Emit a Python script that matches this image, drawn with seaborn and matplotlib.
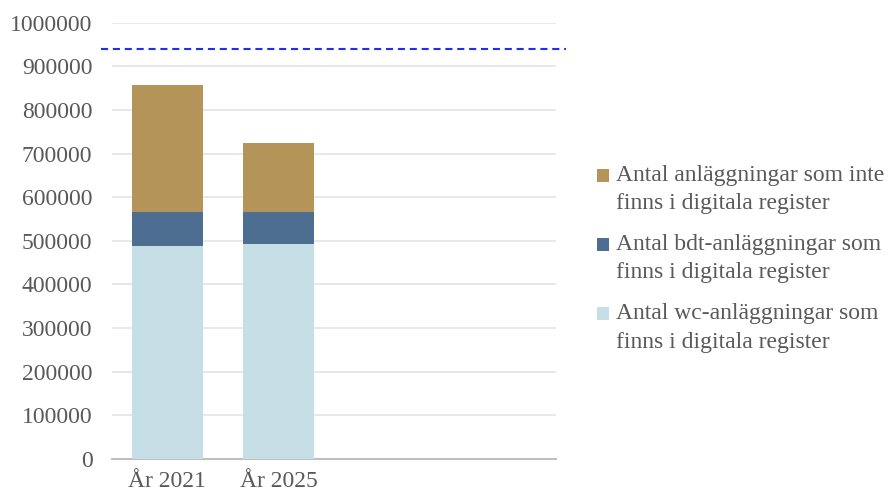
import seaborn as sns
import pandas as pd
import matplotlib
matplotlib.use("Agg")
import matplotlib.pyplot as plt
from matplotlib.patches import Patch, Rectangle
from matplotlib.legend_handler import HandlerPatch
from matplotlib.ticker import StrMethodFormatter

sns.set_theme(style="white")
plt.rcParams['font.family'] = ['Liberation Serif', 'DejaVu Serif']

years = ["År 2021", "År 2025"]
wc = [488000, 492000]
bdt = [79000, 75000]
inte = [290000, 158000]
reference_line = 940000

labels = ["Antal anläggningar som inte\nfinns i digitala register",
          "Antal bdt-anläggningar som\nfinns i digitala register",
          "Antal wc-anläggningar som\nfinns i digitala register"]
colors = ["#b5945a", "#4d6e91", "#c6dee5"]

df = pd.DataFrame({"year": years, "wc": wc, "bdt": bdt, "inte": inte})
df["wc_bdt"] = df["wc"] + df["bdt"]
df["total"] = df["wc_bdt"] + df["inte"]

fig = plt.figure(figsize=(8.88, 4.95), dpi=100)
ax = fig.add_axes([0.126, 0.073, 0.5, 0.881])

grey = "#595959"
for col, c in zip(["total", "wc_bdt", "wc"], colors):
    sns.barplot(data=df, x="year", y=col, color=c, saturation=1, width=0.643,
                edgecolor="none", ax=ax, zorder=3)

ax.hlines(reference_line, -0.6, 3.59, colors="#1f2ff0", linestyles=(0, (3.4, 2.3)),
          linewidth=1.5, clip_on=False, zorder=4)

ax.set_xlim(-0.5, 3.5)
ax.set_ylim(0, 1000000)
ax.set_yticks(range(0, 1000001, 100000))
ax.yaxis.set_major_formatter(StrMethodFormatter("{x:.0f}"))
ax.yaxis.grid(True, color="#e6e6e6", linewidth=1.3)
ax.set_axisbelow(True)
for s in ["top", "right", "left"]:
    ax.spines[s].set_visible(False)
ax.spines["bottom"].set_color("#bfbfbf")
ax.spines["bottom"].set_linewidth(1.5)
ax.tick_params(axis="y", length=0, pad=14, labelsize=17, labelcolor=grey)
ax.tick_params(axis="x", length=0, pad=9, labelsize=17, labelcolor=grey)
ax.set_xlabel("")
ax.set_ylabel("")


# put the legend square beside the first line of each label
def first_line_square(legend, orig_handle, xdescent, ydescent, width, height, fontsize):
    return Rectangle((-xdescent, -ydescent + 10), width, height)


handles = [Patch(facecolor=c, edgecolor="none") for c in colors]
leg = fig.legend(handles, labels, loc="upper left", bbox_to_anchor=(0.659, 0.69),
                 frameon=False, fontsize=17, labelcolor=grey, handlelength=0.5,
                 handleheight=0.5, handletextpad=0.3, labelspacing=0.84, borderpad=0,
                 handler_map={Patch: HandlerPatch(patch_func=first_line_square)})
for t in leg.get_texts():
    t.set_linespacing(1.45)

fig.savefig("out.png", dpi=100)
